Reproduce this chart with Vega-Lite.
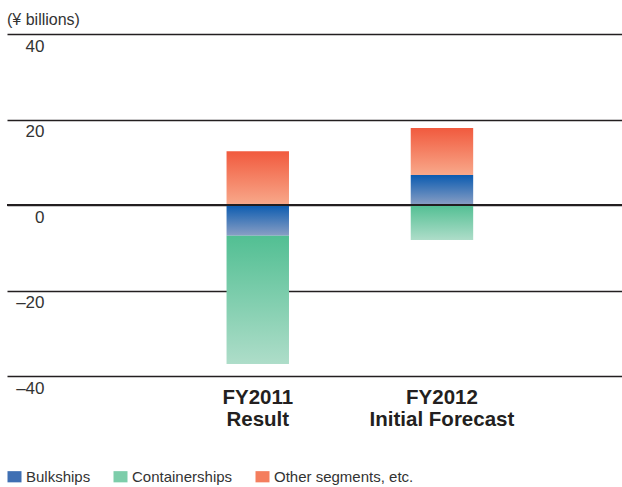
{
  "$schema": "https://vega.github.io/schema/vega-lite/v6.json",
  "width": 615,
  "height": 342,
  "autosize": {"type": "none"},
  "padding": {"left": 7, "top": 34, "right": 0, "bottom": 111},
  "background": "white",
  "title": {
    "text": "(¥ billions)",
    "anchor": "start",
    "frame": "group",
    "fontSize": 16,
    "font": "Liberation Sans",
    "fontWeight": "normal",
    "color": "#333333",
    "offset": 6
  },
  "config": {"view": {"stroke": null}},
  "data": {
    "values": [
      {"period": "FY2011 Result", "segment": "Bulkships", "value": -7.2, "order": 1},
      {"period": "FY2011 Result", "segment": "Containerships", "value": -30, "order": 2},
      {"period": "FY2011 Result", "segment": "Other segments, etc.", "value": 12.6, "order": 3},
      {"period": "FY2012 Initial Forecast", "segment": "Bulkships", "value": 7, "order": 1},
      {"period": "FY2012 Initial Forecast", "segment": "Containerships", "value": -8.2, "order": 2},
      {"period": "FY2012 Initial Forecast", "segment": "Other segments, etc.", "value": 11, "order": 3}
    ]
  },
  "transform": [
    {"stack": "value", "groupby": ["period"], "sort": [{"field": "order", "order": "ascending"}], "as": ["v0", "v1"], "offset": "zero"}
  ],
  "encoding": {
    "x": {
      "field": "period",
      "type": "nominal",
      "sort": null,
      "scale": {"paddingInner": 0.661, "paddingOuter": 1.039, "align": 0.596},
      "axis": {
        "title": null,
        "domain": false,
        "ticks": false,
        "tickSize": 0,
        "grid": false,
        "labelPadding": 11,
        "labelAngle": 0,
        "labelBaseline": "top",
        "labelFontSize": 20.5,
        "labelFont": "Liberation Sans",
        "labelFontWeight": "bold",
        "labelColor": "#231F20",
        "labelLineHeight": 22,
        "labelExpr": "datum.value == 'FY2011 Result' ? ['FY2011', 'Result'] : ['FY2012', 'Initial Forecast']"
      }
    },
    "y": {
      "field": "v0",
      "type": "quantitative",
      "scale": {"domain": [-40, 40], "nice": false},
      "axis": {
        "title": null,
        "values": [-40, -20, 0, 20, 40],
        "domain": false,
        "ticks": false,
        "tickSize": 0,
        "grid": true,
        "gridColor": "#231F20",
        "gridWidth": 1.3,
        "gridOpacity": 1,
        "labelAlign": "right",
        "labelPadding": -37,
        "labelBaseline": "top",
        "labelOffset": 4,
        "labelFontSize": 17,
        "labelFont": "Liberation Sans",
        "labelColor": "#333333",
        "labelBound": false,
        "labelFlush": false,
        "labelOverlap": false,
        "labelExpr": "datum.value < 0 ? '–' + abs(datum.value) : datum.label"
      }
    },
    "y2": {"field": "v1"}
  },
  "layer": [
    {
      "transform": [{"filter": "datum.segment == 'Bulkships'"}],
      "mark": {"type": "bar", "color": {"gradient": "linear", "x1": 0, "y1": 0, "x2": 0, "y2": 1, "stops": [{"offset": 0, "color": "#0B5BB0"}, {"offset": 1, "color": "#8A9FC4"}]}}
    },
    {
      "transform": [{"filter": "datum.segment == 'Containerships'"}],
      "mark": {"type": "bar", "color": {"gradient": "linear", "x1": 0, "y1": 0, "x2": 0, "y2": 1, "stops": [{"offset": 0, "color": "#52BF93"}, {"offset": 1, "color": "#AEDDC9"}]}}
    },
    {
      "transform": [{"filter": "datum.segment == 'Other segments, etc.'"}],
      "mark": {"type": "bar", "color": {"gradient": "linear", "x1": 0, "y1": 0, "x2": 0, "y2": 1, "stops": [{"offset": 0, "color": "#F15A3E"}, {"offset": 1, "color": "#F8A98B"}]}}
    },
    {
      "mark": {"type": "bar", "opacity": 0},
      "encoding": {
        "color": {
          "field": "segment",
          "type": "nominal",
          "scale": {
            "domain": ["Bulkships", "Containerships", "Other segments, etc."],
            "range": ["#3F6FB3", "#7DCDAA", "#F47E5E"]
          },
          "legend": {
            "orient": "none",
            "legendX": 0,
            "legendY": 435,
            "direction": "horizontal",
            "title": null,
            "symbolType": "M-1,-0.8H1V0.8H-1Z",
            "symbolSize": 196,
            "symbolOpacity": 1,
            "symbolStrokeWidth": 0,
            "labelFontSize": 15,
            "labelFont": "Liberation Sans",
            "labelColor": "#333333",
            "labelOffset": 4,
            "columnPadding": 22,
            "encode": {
              "symbols": {
                "update": {
                  "fill": {"signal": "datum.value == 'Bulkships' ? {gradient: 'linear', x1: 0, y1: 0, x2: 0, y2: 1, stops: [{offset: 0, color: '#0B5BB0'}, {offset: 1, color: '#8A9FC4'}]} : datum.value == 'Containerships' ? {gradient: 'linear', x1: 0, y1: 0, x2: 0, y2: 1, stops: [{offset: 0, color: '#52BF93'}, {offset: 1, color: '#AEDDC9'}]} : {gradient: 'linear', x1: 0, y1: 0, x2: 0, y2: 1, stops: [{offset: 0, color: '#F15A3E'}, {offset: 1, color: '#F8A98B'}]}"},
                  "opacity": {"value": 1}
                }
              }
            }
          }
        }
      }
    },
    {
      "mark": {"type": "rule", "color": "#231F20", "strokeWidth": 1.3},
      "encoding": {"y": {"datum": 0}, "y2": null, "x": null}
    }
  ]
}
